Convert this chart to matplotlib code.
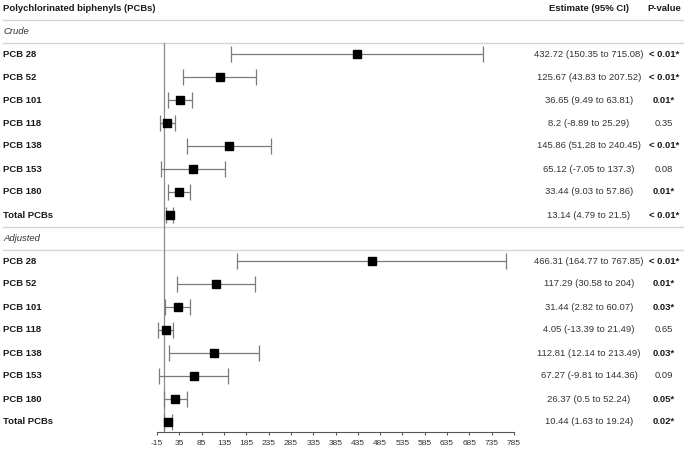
import matplotlib.pyplot as plt
import matplotlib.transforms as mtransforms
import numpy as np

plt.rcParams['font.family'] = ['Liberation Sans', 'DejaVu Sans']

pcbs = ['PCB 28', 'PCB 52', 'PCB 101', 'PCB 118', 'PCB 138', 'PCB 153', 'PCB 180', 'Total PCBs']

crude_est = [432.72, 125.67, 36.65, 8.2, 145.86, 65.12, 33.44, 13.14]
crude_lo = [150.35, 43.83, 9.49, -8.89, 51.28, -7.05, 9.03, 4.79]
crude_hi = [715.08, 207.52, 63.81, 25.29, 240.45, 137.3, 57.86, 21.5]
crude_ci_text = ['432.72 (150.35 to 715.08)', '125.67 (43.83 to 207.52)', '36.65 (9.49 to 63.81)',
                 '8.2 (-8.89 to 25.29)', '145.86 (51.28 to 240.45)', '65.12 (-7.05 to 137.3)',
                 '33.44 (9.03 to 57.86)', '13.14 (4.79 to 21.5)']
crude_p = ['< 0.01*', '< 0.01*', '0.01*', '0.35', '< 0.01*', '0.08', '0.01*', '< 0.01*']

adj_est = [466.31, 117.29, 31.44, 4.05, 112.81, 67.27, 26.37, 10.44]
adj_lo = [164.77, 30.58, 2.82, -13.39, 12.14, -9.81, 0.5, 1.63]
adj_hi = [767.85, 204, 60.07, 21.49, 213.49, 144.36, 52.24, 19.24]
adj_ci_text = ['466.31 (164.77 to 767.85)', '117.29 (30.58 to 204)', '31.44 (2.82 to 60.07)',
               '4.05 (-13.39 to 21.49)', '112.81 (12.14 to 213.49)', '67.27 (-9.81 to 144.36)',
               '26.37 (0.5 to 52.24)', '10.44 (1.63 to 19.24)']
adj_p = ['< 0.01*', '0.01*', '0.03*', '0.65', '0.03*', '0.09', '0.05*', '0.02*']

xticks = np.arange(-15, 786, 50)

W, H = 685, 451
fig = plt.figure(figsize=(W / 100, H / 100), dpi=100)
ax = fig.add_axes([157 / W, 19 / H, 357 / W, 432 / H])
ax.set_xlim(-15, 785)
y_bottom = (432 - 8) / 23
ax.set_ylim(y_bottom, -8 / 23)

# x in figure fraction, y in row units
tr = mtransforms.blended_transform_factory(fig.transFigure, ax.transData)

fs = 6.8
txt_col = '#1a1a1a'
ci_col = '#333333'

ax.text(3 / W, 0, 'Polychlorinated biphenyls (PCBs)', transform=tr, fontsize=fs,
        fontweight='bold', va='center', ha='left', color=txt_col)
ax.text(589 / W, 0, 'Estimate (95% CI)', transform=tr, fontsize=fs,
        fontweight='bold', va='center', ha='center', color=txt_col)
ax.text(664 / W, 0, 'P-value', transform=tr, fontsize=fs,
        fontweight='bold', va='center', ha='center', color=txt_col)

for yl in [0.5, 1.5, 9.5, 10.5]:
    ax.plot([3 / W, 683 / W], [yl, yl], transform=tr, color='#d6d6d6', lw=1.0, clip_on=False)

ax.plot([0, 0], [1.5, y_bottom], color='#8a8a8a', lw=0.9, clip_on=False)

sections = [
    ('Crude', 1, crude_est, crude_lo, crude_hi, crude_ci_text, crude_p),
    ('Adjusted', 10, adj_est, adj_lo, adj_hi, adj_ci_text, adj_p),
]

for name, start, est, lo, hi, ci_txt, pv in sections:
    ax.text(3 / W, start, name, transform=tr, fontsize=fs, fontstyle='italic',
            va='center', ha='left', color='#333333')
    for i, lab in enumerate(pcbs):
        y = start + 1 + i
        ax.text(3 / W, y, lab, transform=tr, fontsize=fs, fontweight='bold',
                va='center', ha='left', color=txt_col)
        ax.errorbar(est[i], y, xerr=[[est[i] - lo[i]], [hi[i] - est[i]]], fmt='none',
                    ecolor='#7a7a7a', elinewidth=0.9, capsize=5.5, capthick=0.9)
        ms = 5.9 if lab == 'Total PCBs' else 5.1
        ax.plot(est[i], y, marker='s', color='black', ms=ms, ls='none', zorder=5)
        ax.text(589 / W, y, ci_txt[i], transform=tr, fontsize=fs, va='center',
                ha='center', color=ci_col)
        sig = pv[i].endswith('*')
        ax.text(664 / W, y, pv[i], transform=tr, fontsize=fs, va='center', ha='center',
                color=txt_col if sig else ci_col, fontweight='bold' if sig else 'normal')

for s in ['top', 'right', 'left']:
    ax.spines[s].set_visible(False)
ax.spines['bottom'].set_color('#555555')
ax.spines['bottom'].set_linewidth(0.8)
ax.set_xticks(xticks)
ax.set_xticklabels([str(t) for t in xticks])
ax.tick_params(axis='x', length=2.5, width=0.8, color='#555555', labelsize=6,
               labelcolor='#333333', pad=3)
ax.set_yticks([])

fig.savefig('out.png', dpi=100)
